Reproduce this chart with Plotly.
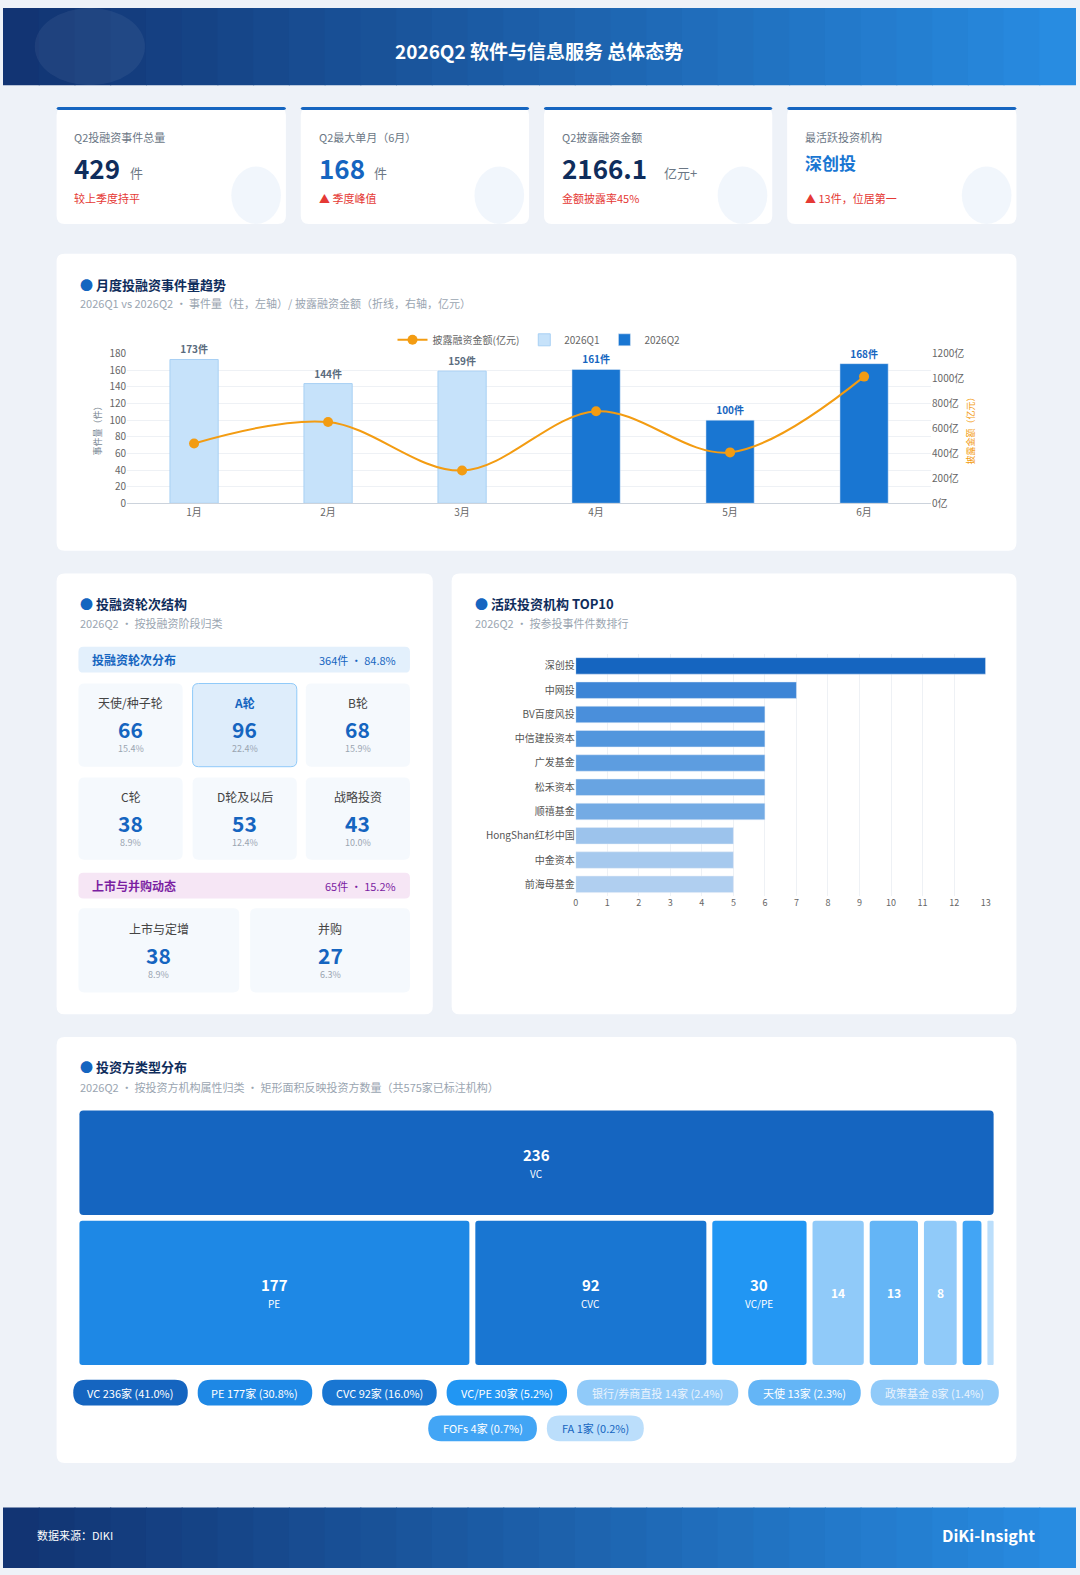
import plotly.graph_objects as go

W, H = 1080, 1575
FONT = "Noto Sans CJK SC"

# ---------------- data ----------------
kpi_labels = ["Q2投融资事件总量", "Q2最大单月（6月）", "Q2披露融资金额", "最活跃投资机构"]
kpi_values = ["429", "168", "2166.1", "深创投"]
kpi_units = ["件", "件", "亿元+", ""]
kpi_notes = ["较上季度持平", "▲ 季度峰值", "金额披露率45%", "▲ 13件，位居第一"]

months = ["1月", "2月", "3月", "4月", "5月", "6月"]
q1_counts = [173, 144, 159]
q2_counts = [161, 100, 168]
amounts = [480, 652, 262, 738, 408, 1016]

round_names = ["天使/种子轮", "A轮", "B轮", "C轮", "D轮及以后", "战略投资"]
round_values = [66, 96, 68, 38, 53, 43]
exit_names = ["上市与定增", "并购"]
exit_values = [38, 27]
total_events = 429

inst_names = ["深创投", "中网投", "BV百度风投", "中信建投资本", "广发基金", "松禾资本",
              "顺禧基金", "HongShan红杉中国", "中金资本", "前海母基金"]
inst_counts = [13, 7, 6, 6, 6, 6, 6, 5, 5, 5]
inst_colors = ["#1565c0", "#3d85d6", "#4a8fdb", "#5296dd", "#5d9de0", "#68a4e2",
               "#74abe4", "#9cc3ec", "#a6c9ee", "#b0cff0"]

inv_types = ["VC", "PE", "CVC", "VC/PE", "银行/券商直投", "天使", "政策基金", "FOFs", "FA"]
inv_counts = [236, 177, 92, 30, 14, 13, 8, 4, 1]
inv_colors = ["#1565c0", "#1e88e5", "#1976d2", "#2196f3", "#90caf9", "#64b5f6", "#90caf9", "#42a5f5", "#bbdefb"]
inv_total = 575

# ---------------- helpers ----------------
shapes, ann = [], []

def px(x): return x / W
def py(y): return 1 - y / H

def rrect(x0, y0, x1, y1, r, fill, line=None, lw=0, layer="below"):
    rx, ry = r / W, r / H
    X0, X1, T, B = px(x0), px(x1), py(y0), py(y1)
    p = (f"M {X0+rx},{T} L {X1-rx},{T} Q {X1},{T} {X1},{T-ry} L {X1},{B+ry} Q {X1},{B} {X1-rx},{B} "
         f"L {X0+rx},{B} Q {X0},{B} {X0},{B+ry} L {X0},{T-ry} Q {X0},{T} {X0+rx},{T} Z")
    shapes.append(dict(type="path", path=p, xref="paper", yref="paper", fillcolor=fill,
                       line=dict(color=line or fill, width=lw), layer=layer))

def rect(x0, y0, x1, y1, fill, layer="below"):
    shapes.append(dict(type="rect", xref="paper", yref="paper", x0=px(x0), x1=px(x1), y0=py(y1), y1=py(y0),
                       fillcolor=fill, line=dict(width=0), layer=layer))

def txt(x, y, t, size=11, color="#333", bold=False, anchor="left"):
    if bold: t = f"<b>{t}</b>"
    ann.append(dict(x=px(x), y=py(y), xref="paper", yref="paper", text=t, showarrow=False,
                    xanchor=anchor, yanchor="middle", font=dict(size=size, color=color, family=FONT)))

# background
rect(0, 0, W, H, "#eef2f8")
steps = 30
for i in range(steps):
    t = i / (steps - 1)
    c = (int(18 + (40 - 18) * t), int(52 + (140 - 52) * t), int(115 + (225 - 115) * t))
    rect(W * i / steps, 0, W * (i + 1) / steps + 1, 78, f"rgb{c}")
    rect(W * i / steps, 1514, W * (i + 1) / steps + 1, H, f"rgb{c}")
shapes.append(dict(type="circle", xref="paper", yref="paper", x0=px(32), x1=px(143), y0=py(78), y1=py(0),
                   fillcolor="rgba(255,255,255,0.06)", line=dict(width=0), layer="below"))
txt(540, 43, "2026Q2 软件与信息服务 总体态势", 19, "white", True, "center")
txt(32, 1542, "数据来源：DIKI", 11, "white")
txt(1042, 1542, "DiKi-Insight", 16, "white", True, "right")

# KPI cards
kx = [(54, 285), (300, 530), (545, 775), (790, 1021)]
for i, (a, b) in enumerate(kx):
    rrect(a, 100, b, 218, 8, "white")
    rrect(a, 100, b, 103, 2, "#1565c0")
    shapes.append(dict(type="circle", xref="paper", yref="paper", x0=px(b - 55), x1=px(b - 5),
                       y0=py(218), y1=py(160), fillcolor="rgba(225,235,248,0.45)", line=dict(width=0)))
    txt(a + 16, 130, kpi_labels[i], 11, "#6b7785")
    vcol = "#0f2d5c" if i in (0, 2) else "#1565c0"
    if i == 3:
        txt(a + 16, 156, kpi_values[i], 17, "#1976d2", True)
    else:
        txt(a + 16, 161, kpi_values[i], 26, vcol, True)
        off = {0: 56, 1: 56, 2: 103}[i]
        txt(a + 16 + off, 166, kpi_units[i], 13, "#6b7785")
    txt(a + 16, 192, kpi_notes[i], 11, "#e53935")

# card 2
rrect(54, 248, 1021, 548, 8, "white")
txt(76, 279, "<span style='color:#1565c0'>●</span> 月度投融资事件量趋势", 13, "#0f2d5c", True)
txt(76, 298, "2026Q1 vs 2026Q2 · 事件量（柱，左轴）/ 披露融资金额（折线，右轴，亿元）", 11, "#9aa5b1")

# card 3 rounds
rrect(54, 571, 433, 1016, 8, "white")
txt(76, 601, "<span style='color:#1565c0'>●</span> 投融资轮次结构", 13, "#0f2d5c", True)
txt(76, 621, "2026Q2 · 按投融资阶段归类", 11, "#9aa5b1")
rrect(76, 645, 410, 671, 5, "#e3f0fc")
txt(88, 658, "投融资轮次分布", 12, "#1565c0", True)
txt(398, 658, f"{sum(round_values)}件 · {sum(round_values)/total_events*100:.1f}%", 11, "#1565c0", False, "right")
cols = [(76, 181), (191, 296), (305, 410)]
rows = [(682, 766), (777, 860)]
for k, (n, v) in enumerate(zip(round_names, round_values)):
    a, b = cols[k % 3]; t, bt = rows[k // 3]
    hi = v == max(round_values)
    rrect(a, t, b, bt, 6, "#deedfb" if hi else "#f5f9fd", "#90caf9" if hi else None, 1 if hi else 0)
    cx = (a + b) / 2
    txt(cx, t + 19, n, 12, "#1565c0" if hi else "#444", hi, "center")
    txt(cx, t + 46, str(v), 21, "#1565c0", True, "center")
    txt(cx, t + 66, f"{v/total_events*100:.1f}%", 9, "#9aa5b1", False, "center")
rrect(76, 873, 410, 899, 5, "#f6e6f5")
txt(88, 886, "上市与并购动态", 12, "#7b1fa2", True)
txt(398, 886, f"{sum(exit_values)}件 · {sum(exit_values)/total_events*100:.1f}%", 11, "#7b1fa2", False, "right")
for k, (n, v) in enumerate(zip(exit_names, exit_values)):
    a, b = [(76, 238), (249, 410)][k]
    rrect(a, 909, b, 994, 6, "#f5f9fd")
    cx = (a + b) / 2
    txt(cx, 929, n, 12, "#444", False, "center")
    txt(cx, 956, str(v), 21, "#1565c0", True, "center")
    txt(cx, 976, f"{v/total_events*100:.1f}%", 9, "#9aa5b1", False, "center")

# card 4
rrect(452, 571, 1021, 1016, 8, "white")
txt(474, 601, "<span style='color:#1565c0'>●</span> 活跃投资机构 TOP10", 13, "#0f2d5c", True)
txt(474, 621, "2026Q2 · 按参投事件件数排行", 11, "#9aa5b1")

# card 5 treemap
rrect(54, 1039, 1021, 1469, 8, "white")
txt(76, 1069, "<span style='color:#1565c0'>●</span> 投资方类型分布", 13, "#0f2d5c", True)
txt(76, 1089, "2026Q2 · 按投资方机构属性归类 · 矩形面积反映投资方数量（共575家已标注机构）", 11, "#9aa5b1")
TX0, TX1, TY0, TY1, G = 77, 998, 1113, 1370, 6
top_h = (TY1 - TY0) * inv_counts[0] / inv_total
rrect(TX0, TY0, TX1, TY0 + top_h, 4, inv_colors[0], layer="above")
txt((TX0 + TX1) / 2, TY0 + top_h / 2 - 8, str(inv_counts[0]), 15, "white", True, "center")
txt((TX0 + TX1) / 2, TY0 + top_h / 2 + 11, inv_types[0], 10, "white", False, "center")
rest = inv_counts[1:]
scale = [v ** 0.8 for v in rest]
avail = (TX1 - TX0) - G * (len(rest) - 1)
x = TX0
r0 = TY0 + top_h + G
for i, v in enumerate(rest):
    w = avail * scale[i] / sum(scale)
    c = inv_colors[i + 1]
    rrect(x, r0, x + w, TY1, 3 if w > 8 else 1, c, layer="above")
    cy = (r0 + TY1) / 2
    if w > 80:
        txt(x + w / 2, cy - 8, str(v), 15, "white", True, "center")
        txt(x + w / 2, cy + 11, inv_types[i + 1], 10, "white", False, "center")
    elif w > 30:
        txt(x + w / 2, cy, str(v), 12, "white", True, "center")
    x += w + G

# pills
labels = [f"{n} {v}家 ({v/inv_total*100:.1f}%)" for n, v in zip(inv_types, inv_counts)]
def tw(s): return sum(10.8 if ord(ch) > 255 else 5.9 for ch in s) + 22
rows_p = [list(range(7)), [7, 8]]
for ri, idx in enumerate(rows_p):
    gap = 10
    total = sum(tw(labels[i]) for i in idx) + gap * (len(idx) - 1)
    x = 537 - total / 2
    yc = 1398 + ri * 36
    for i in idx:
        w = tw(labels[i])
        rrect(x, yc - 13, x + w, yc + 13, 13, inv_colors[i], layer="above")
        tc = "#1565c0" if i == 8 else ("#eaf3fd" if inv_colors[i] == "#90caf9" else "white")
        txt(x + w / 2, yc, labels[i], 11, tc, False, "center")
        x += w + gap

# ---------------- traces ----------------
fig = go.Figure()
fig.add_trace(go.Bar(name="2026Q1", x=months[:3], y=q1_counts, marker=dict(color="#c6e2fa", line=dict(color="#a8d0f4", width=1)),
                     width=0.36, text=[f"<b>{v}件</b>" for v in q1_counts], textposition="outside", legendrank=2,
                     textfont=dict(size=10, color="#5a6b7d"), cliponaxis=False, xaxis="x", yaxis="y"))
fig.add_trace(go.Bar(name="2026Q2", x=months[3:], y=q2_counts, marker=dict(color="#1976d2"), legendrank=3,
                     width=0.36, text=[f"<b>{v}件</b>" for v in q2_counts], textposition="outside",
                     textfont=dict(size=10, color="#1565c0"), cliponaxis=False, xaxis="x", yaxis="y"))
fig.add_trace(go.Scatter(name="披露融资金额(亿元)", x=months, y=amounts, mode="lines+markers", legendrank=1,
                         line=dict(color="#f39c12", width=2, shape="spline"), marker=dict(size=10, color="#f39c12"),
                         xaxis="x", yaxis="y2"))
fig.add_trace(go.Bar(x=inst_counts, y=inst_names, orientation="h", marker=dict(color=inst_colors), width=0.68,
                     showlegend=False, xaxis="x3", yaxis="y3"))

fig.update_layout(
    width=W, height=H, margin=dict(l=0, r=0, t=0, b=0), paper_bgcolor="#eef2f8", plot_bgcolor="rgba(0,0,0,0)",
    font=dict(family=FONT, color="#666"), barmode="overlay", shapes=shapes, annotations=ann,
    legend=dict(orientation="h", x=px(540), y=py(335), xanchor="center", yanchor="middle",
                font=dict(size=10, color="#666"), bgcolor="rgba(0,0,0,0)"),
    xaxis=dict(domain=[px(125), px(935)], categoryorder="array", categoryarray=months, showgrid=False,
               showline=True, linecolor="#ccd3dc", tickfont=dict(size=10, color="#666"), ticks=""),
    yaxis=dict(domain=[py(500), py(349)], range=[0, 180], dtick=20, gridcolor="#eef1f5", zeroline=False,
               tickfont=dict(size=10, color="#666"), title=dict(text="事件量（件）", font=dict(size=9, color="#7a8793"), standoff=6)),
    yaxis2=dict(overlaying="y", side="right", anchor="x", range=[0, 1200], dtick=200, ticksuffix="亿", showgrid=False,
                zeroline=False, tickfont=dict(size=10, color="#666"),
                title=dict(text="披露金额（亿元）", font=dict(size=9, color="#f39c12"), standoff=4)),
    xaxis3=dict(domain=[px(577), px(990)], anchor="y3", range=[0, 13], dtick=1, gridcolor="#eef1f5", zeroline=False,
                tickfont=dict(size=9, color="#666")),
    yaxis3=dict(domain=[py(897), py(652)], anchor="x3", autorange="reversed", tickfont=dict(size=10, color="#555"),
                ticks="", ticklen=6, tickcolor="white"),
)
js = ("var s=document.createElement('style');s.innerHTML='html,body{margin:0 !important;padding:0 !important;overflow:hidden}';"
      "document.head.appendChild(s);")
fig.write_html("out.html", config={"displayModeBar": False}, post_script=js)
